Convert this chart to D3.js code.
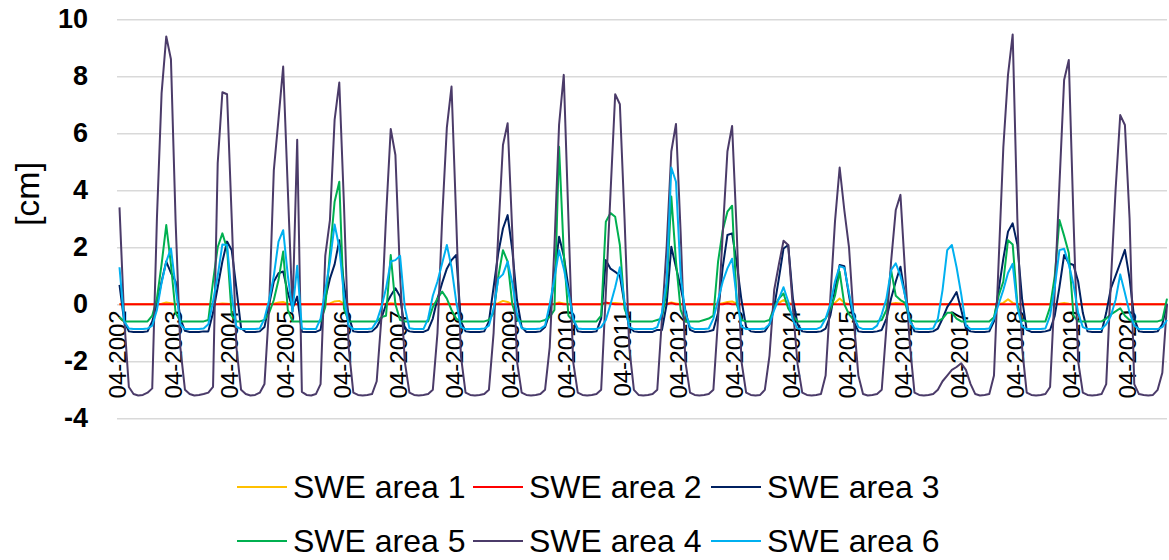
<!DOCTYPE html>
<html>
<head>
<meta charset="utf-8">
<script src="https://cdn.jsdelivr.net/npm/d3@7"></script>
<style>
  body { margin: 0; background: #fff; }
  svg { display: block; font-family: "Liberation Sans", Arial, sans-serif; }
</style>
</head>
<body>
<div id="chart"></div>
<script>
// monthly values, one line per hydrological year (Apr .. Mar), 04-2002 .. 12-2020
const startYear = 2002;
const startMonth = 4;

const area1 = [
  0, 0, 0, 0, 0, 0, 0, 0, 0, 0.02, 0.06, 0.04,
  0, 0, 0, 0, 0, 0, 0, 0, 0, 0.01, 0.03, 0.02,
  0, 0, 0, 0, 0, 0, 0, 0, 0, 0.02, 0.06, 0.08,
  0.02, 0, 0, 0, 0, 0, 0, 0, 0, 0.03, 0.1, 0.12,
  0.02, 0, 0, 0, 0, 0, 0, 0, 0, 0.01, 0.04, 0.02,
  0, 0, 0, 0, 0, 0, 0, 0, 0, 0.01, 0.02, 0.01,
  0, 0, 0, 0, 0, 0, 0, 0, 0, 0.04, 0.12, 0.08,
  0, 0, 0, 0, 0, 0, 0, 0, 0, 0.02, 0.06, 0.03,
  0, 0, 0, 0, 0, 0, 0, 0, 0.03, 0.05, 0.05, 0.03,
  0, 0, 0, 0, 0, 0, 0, 0, 0, 0.02, 0.06, 0.03,
  0, 0, 0, 0, 0, 0, 0, 0, 0, 0.04, 0.08, 0.1,
  0.02, 0, 0, 0, 0, 0, 0, 0, 0, 0.05, 0.15, 0.05,
  0, 0, 0, 0, 0, 0, 0, 0, 0, 0.05, 0.2, 0.05,
  0, 0, 0, 0, 0, 0, 0, 0, 0, 0.02, 0.05, 0.03,
  0, 0, 0, 0, 0, 0, 0, 0, 0, 0, 0, 0,
  0, 0, 0, 0, 0, 0, 0, 0, 0, 0.05, 0.18, 0.05,
  0, 0, 0, 0, 0, 0, 0, 0, 0, 0.02, 0.05, 0.02,
  0, 0, 0, 0, 0, 0, 0, 0, 0, 0, 0.02, 0,
  0, 0, 0, 0, 0, 0, 0, 0, 0
];

const area2 = [
  0, 0, 0, 0, 0, 0, 0, 0, 0, 0, 0, 0,
  0, 0, 0, 0, 0, 0, 0, 0, 0, 0, 0, 0,
  0, 0, 0, 0, 0, 0, 0, 0, 0, 0, 0, 0,
  0, 0, 0, 0, 0, 0, 0, 0, 0, 0, 0, 0,
  0, 0, 0, 0, 0, 0, 0, 0, 0, 0, 0, 0,
  0, 0, 0, 0, 0, 0, 0, 0, 0, 0, 0, 0,
  0, 0, 0, 0, 0, 0, 0, 0, 0, 0, 0, 0,
  0, 0, 0, 0, 0, 0, 0, 0, 0, 0, 0.02, 0,
  0, 0, 0, 0, 0, 0, 0, 0, 0.06, 0.02, 0, 0,
  0, 0, 0, 0, 0, 0, 0, 0, 0, 0, 0.04, 0,
  0, 0, 0, 0, 0, 0, 0, 0, 0, 0, 0.03, 0,
  0, 0, 0, 0, 0, 0, 0, 0, 0, 0, 0, 0,
  0, 0, 0, 0, 0, 0, 0, 0, 0, 0, 0, 0,
  0, 0, 0, 0, 0, 0, 0, 0, 0, 0, 0, 0,
  0, 0, 0, 0, 0, 0, 0, 0, 0, 0, 0, 0,
  0, 0, 0, 0, 0, 0, 0, 0, 0, 0, 0, 0,
  0, 0, 0, 0, 0, 0, 0, 0, 0, 0, 0, 0,
  0, 0, 0, 0, 0, 0, 0, 0, 0, 0, 0, 0,
  0, 0, 0, 0, 0, 0, 0, 0, 0
];

const area3 = [
  0.68, -0.6, -0.95, -0.97, -0.97, -0.97, -0.95, -0.6, 0.0, 0.8, 1.5, 1.1,
  0.8, -0.5, -0.93, -0.97, -0.97, -0.97, -0.95, -0.95, -0.3, 0.6, 1.5, 2.2,
  1.9, 0.56, -0.84, -0.97, -0.97, -0.97, -0.95, -0.8, 0.0, 0.8, 1.09, 1.15,
  0.4, -0.14, 0.27, -0.96, -0.97, -0.97, -0.97, -0.9, 0.2, 0.9, 1.4, 2.25,
  0.7, -0.4, -0.95, -0.97, -0.97, -0.97, -0.95, -0.8, -0.5, 0.0, 0.3, 0.56,
  0.27, -0.85, -0.95, -0.97, -0.97, -0.97, -0.9, -0.5, 0.2, 0.75, 1.25, 1.55,
  1.73, -0.6, -0.95, -0.97, -0.97, -0.97, -0.95, -0.6, 0.6, 1.8, 2.66, 3.13,
  1.9, 0.15, -0.8, -0.97, -0.97, -0.97, -0.95, -0.8, -0.3, 1.0, 2.37, 1.7,
  0.6, -0.5, -0.95, -0.97, -0.97, -0.97, -0.95, -0.5, 1.55, 1.25, 1.14, 1.0,
  0.0, -0.8, -0.95, -0.97, -0.97, -0.97, -0.97, -0.9, -0.9, 0.0, 2.02, 1.3,
  0.6, -0.2, -0.9, -0.97, -0.97, -0.97, -0.95, -0.9, -0.3, 1.3, 2.43, 2.49,
  1.44, 0.15, -0.8, -0.95, -0.97, -0.97, -0.95, -0.7, -0.1, 0.9, 1.96, 2.08,
  0.2, -0.7, -0.95, -0.97, -0.97, -0.97, -0.95, -0.85, -0.4, 0.5, 1.38, 1.34,
  0.3, -0.6, -0.95, -0.97, -0.97, -0.97, -0.95, -0.9, -0.5, 0.2, 0.8, 1.32,
  0.3, -0.5, -0.95, -0.97, -0.97, -0.97, -0.95, -0.85, -0.5, -0.1, 0.15, 0.43,
  -0.2, -0.85, -0.95, -0.97, -0.97, -0.97, -0.95, -0.6, 0.5, 1.6, 2.55, 2.84,
  2.1, 0.2, -0.9, -0.97, -0.97, -0.97, -0.95, -0.9, -0.4, 0.6, 1.73, 1.44,
  1.38, 0.8, -0.3, -0.95, -0.97, -0.97, -0.97, -0.3, 0.56, 1.0, 1.45, 1.91,
  0.9, -0.5, -0.95, -0.97, -0.97, -0.97, -0.95, -0.7, 0.03
];

const area5 = [
  -0.45, -0.6, -0.6, -0.6, -0.6, -0.6, -0.6, -0.4, 0.2, 1.4, 2.78, 1.4,
  -0.3, -0.6, -0.6, -0.6, -0.6, -0.6, -0.6, -0.55, 0.8, 2.0, 2.49, 1.96,
  -0.4, -0.6, -0.6, -0.6, -0.6, -0.6, -0.6, -0.55, -0.3, 0.15, 0.85, 1.85,
  -0.2, -0.6, -0.6, -0.6, -0.6, -0.6, -0.6, -0.6, -0.1, 1.8, 3.6, 4.3,
  -0.15, -0.6, -0.6, -0.6, -0.6, -0.6, -0.6, -0.6, -0.45, -0.4, 1.73, 0.0,
  -0.55, -0.6, -0.6, -0.6, -0.6, -0.6, -0.6, -0.1, 0.2, 0.45, 0.2, -0.2,
  -0.5, -0.6, -0.6, -0.6, -0.6, -0.6, -0.6, -0.55, -0.3, 0.97, 1.9, 1.5,
  0.0, -0.55, -0.6, -0.6, -0.6, -0.6, -0.6, -0.55, -0.45, -0.2, 5.53, 1.8,
  -0.4, -0.6, -0.6, -0.6, -0.6, -0.6, -0.6, -0.4, 2.9, 3.2, 3.07, 2.08,
  -0.15, -0.6, -0.6, -0.6, -0.6, -0.6, -0.6, -0.55, -0.5, 0.5, 3.78, 1.5,
  -0.2, -0.6, -0.6, -0.6, -0.6, -0.55, -0.5, -0.4, 1.5, 2.6, 3.25, 3.46,
  0.0, -0.55, -0.6, -0.6, -0.6, -0.6, -0.6, -0.55, -0.1, 0.2, 0.38, -0.15,
  -0.4, -0.6, -0.6, -0.6, -0.6, -0.6, -0.6, -0.5, -0.2, 0.3, 1.14, 0.0,
  -0.35, -0.55, -0.6, -0.6, -0.6, -0.6, -0.6, -0.55, -0.2, 1.2, 0.3, 0.15,
  0.05, -0.55, -0.6, -0.6, -0.6, -0.6, -0.6, -0.6, -0.5, -0.3, -0.3, -0.5,
  -0.6, -0.6, -0.6, -0.6, -0.6, -0.6, -0.6, -0.45, 0.3, 0.8, 2.25, 2.1,
  0.0, -0.55, -0.6, -0.6, -0.6, -0.6, -0.6, -0.1, 1.0, 2.96, 2.4, 1.8,
  -0.4, -0.6, -0.6, -0.6, -0.6, -0.6, -0.6, -0.5, -0.35, -0.25, -0.14, -0.4,
  -0.55, -0.6, -0.6, -0.6, -0.6, -0.6, -0.6, -0.55, 0.2
];

const area4 = [
  3.4, -0.5, -2.9, -3.15, -3.2, -3.18, -3.1, -2.95, 3.0, 7.4, 9.4, 8.6,
  2.9, -1.5, -3.0, -3.15, -3.2, -3.18, -3.15, -3.1, -2.9, 4.95, 7.44, 7.37,
  3.0, -1.5, -3.0, -3.15, -3.2, -3.18, -3.1, -2.8, -0.1, 4.7, 6.5, 8.34,
  4.0, -0.26, 5.77, -3.07, -3.18, -3.2, -3.15, -2.8, 1.7, 2.95, 6.47, 7.78,
  3.5, -1.5, -3.1, -3.18, -3.2, -3.18, -3.15, -2.7, -0.5, 3.07, 6.15, 5.24,
  1.0, -2.0, -3.1, -3.18, -3.2, -3.18, -3.15, -3.0, -1.0, 3.0, 6.2, 7.64,
  3.0, -1.8, -3.1, -3.18, -3.2, -3.18, -3.15, -3.0, -1.0, 2.5, 5.59, 6.35,
  2.5, -2.0, -3.1, -3.18, -3.2, -3.18, -3.15, -3.0, -1.5, 2.0, 6.3, 8.05,
  3.0, -2.0, -3.1, -3.18, -3.2, -3.18, -3.15, -3.0, 0.4, 3.9, 7.37, 7.02,
  3.0, -1.5, -3.0, -3.18, -3.2, -3.18, -3.15, -3.0, -0.5, 2.0, 5.36, 6.33,
  2.5, -2.0, -3.1, -3.18, -3.2, -3.18, -3.15, -3.0, -0.5, 2.5, 5.36, 6.26,
  2.5, -2.0, -3.1, -3.18, -3.2, -3.18, -3.0, -1.8, 0.5, 1.4, 2.23, 2.08,
  -0.14, -2.1, -3.1, -3.18, -3.2, -3.18, -3.15, -2.5, 0.2, 2.9, 4.8, 3.3,
  2.0, -0.5, -2.5, -3.15, -3.2, -3.18, -3.15, -3.0, -0.8, 1.5, 3.31, 3.84,
  1.1, -1.4, -3.1, -3.18, -3.2, -3.18, -3.15, -3.0, -2.7, -2.5, -2.3, -2.2,
  -2.07, -2.3, -2.8, -3.15, -3.2, -3.18, -3.15, -2.5, 1.5, 5.5, 8.05, 9.47,
  3.0, -1.5, -3.1, -3.18, -3.2, -3.18, -3.15, -2.9, 0.5, 4.2, 7.87, 8.57,
  3.0, -2.0, -3.1, -3.18, -3.2, -3.18, -3.15, -2.8, 0.8, 4.0, 6.64, 6.29,
  3.0, -2.8, -3.15, -3.18, -3.2, -3.18, -3.0, -2.4, 0.0
];

const area6 = [
  1.3, -0.6, -0.85, -0.87, -0.87, -0.87, -0.85, -0.75, -0.2, 0.75, 1.5, 1.96,
  0.6, -0.7, -0.87, -0.87, -0.87, -0.87, -0.85, -0.7, 0.1, 1.0, 2.1, 2.08,
  0.3, -0.78, -0.87, -0.87, -0.87, -0.87, -0.85, -0.5, 0.15, 1.0, 2.2, 2.6,
  1.0, -0.25, 1.35, -0.85, -0.87, -0.87, -0.87, -0.5, 0.5, 1.5, 2.8, 2.0,
  0.3, -0.75, -0.87, -0.87, -0.87, -0.87, -0.85, -0.6, -0.1, 0.56, 1.5, 1.55,
  1.7, -0.1, -0.84, -0.87, -0.87, -0.87, -0.5, 0.3, 0.8, 1.44, 2.08, 1.3,
  0.1, -0.8, -0.87, -0.87, -0.87, -0.87, -0.85, -0.75, -0.15, 0.9, 1.05, 1.5,
  0.75, -0.35, -0.84, -0.87, -0.87, -0.87, -0.85, -0.75, 0.0, 0.9, 1.9, 1.26,
  0.44, -0.5, -0.85, -0.87, -0.87, -0.87, -0.87, -0.8, -0.55, 0.0, 0.6, 1.3,
  0.1, -0.8, -0.87, -0.87, -0.87, -0.87, -0.87, -0.8, -0.3, 0.8, 4.8, 4.3,
  1.0, -0.3, -0.8, -0.87, -0.87, -0.87, -0.85, -0.5, 0.15, 0.8, 1.26, 1.6,
  0.2, -0.78, -0.87, -0.87, -0.87, -0.87, -0.85, -0.7, -0.2, 0.2, 0.6, 0.1,
  -0.55, -0.85, -0.87, -0.87, -0.87, -0.87, -0.8, -0.5, 0.0, 0.8, 1.34, 1.28,
  0.4, -0.4, -0.8, -0.87, -0.87, -0.87, -0.75, -0.35, 0.2, 1.2, 1.44, 1.0,
  0.3, -0.6, -0.85, -0.87, -0.87, -0.87, -0.85, -0.5, 0.5, 1.9, 2.08, 1.3,
  0.35, -0.75, -0.87, -0.87, -0.87, -0.87, -0.85, -0.5, 0.0, 0.5, 1.1, 1.42,
  -0.1, -0.78, -0.87, -0.87, -0.87, -0.87, -0.85, -0.4, 0.6, 1.9, 1.95, 1.4,
  0.7, -0.3, -0.8, -0.87, -0.87, -0.87, -0.87, -0.7, -0.4, 0.15, 1.05, 0.4,
  -0.3, -0.75, -0.87, -0.87, -0.87, -0.87, -0.87, -0.8, -0.55
];

const seriesNames = ["SWE area 1", "SWE area 2", "SWE area 3", "SWE area 5", "SWE area 4", "SWE area 6"];
const seriesColors = ["#FFC000", "#FF0000", "#002060", "#00B050", "#4B3B69", "#00B0F0"];
const seriesValues = [area1, area2, area3, area5, area4, area6];

const yTicks = [-4, -2, 0, 2, 4, 6, 8, 10];
const tickLabels = ["04-2002", "04-2003", "04-2004", "04-2005", "04-2006", "04-2007", "04-2008",
  "04-2009", "04-2010", "04-2011", "04-2012", "04-2013", "04-2014", "04-2015", "04-2016",
  "04-2017", "04-2018", "04-2019", "04-2020"];

// month categories "MM-YYYY"
const categories = area4.map((_, i) => {
  const m = (startMonth - 1 + i) % 12 + 1;
  const yr = startYear + Math.floor((startMonth - 1 + i) / 12);
  return String(m).padStart(2, "0") + "-" + yr;
});

const width = 1169, height = 560;
const plotLeft = 117, plotRight = 1167;

const svg = d3.select("#chart").append("svg")
  .attr("width", width)
  .attr("height", height);

const x = d3.scalePoint()
  .domain(categories)
  .range([119.5, 1167]);

const y = d3.scaleLinear()
  .domain([-4, 10])
  .range([418.3, 19.3]);

// gridlines
svg.append("g")
  .attr("transform", "translate(" + plotLeft + ",0)")
  .call(d3.axisLeft(y).tickValues(yTicks).tickSize(-(plotRight - plotLeft)).tickFormat(""))
  .call(g => g.select(".domain").remove())
  .call(g => g.selectAll("line").attr("stroke", "#d9d9d9").attr("stroke-width", 1.5));

// y tick labels (plain hyphen for negatives, like the original)
svg.append("g")
  .attr("transform", "translate(88,0)")
  .call(d3.axisLeft(y).tickValues(yTicks).tickSize(0).tickPadding(0).tickFormat(d => String(d)))
  .call(g => g.select(".domain").remove())
  .call(g => g.selectAll("text")
    .attr("fill", "#000")
    .attr("font-size", 27)
    .attr("font-weight", "bold")
    .attr("font-family", "'Liberation Sans', Arial, sans-serif"));

// y axis title
svg.append("text")
  .attr("transform", "translate(27,194) rotate(-90)")
  .attr("text-anchor", "middle")
  .attr("dy", "0.35em")
  .attr("font-size", 34)
  .text("[cm]");

// x labels, vertical, just under the zero line
svg.append("g").selectAll("text")
  .data(tickLabels)
  .join("text")
  .attr("transform", d => "translate(" + (x(d) - 2) + "," + (y(0) + 6) + ") rotate(-90)")
  .attr("text-anchor", "end")
  .attr("dy", "0.36em")
  .attr("font-size", 24)
  .text(d => d);

// lines
const line = d3.line()
  .x((d, i) => x(categories[i]))
  .y(d => y(d));

svg.append("g").selectAll("path")
  .data(seriesValues)
  .join("path")
  .attr("fill", "none")
  .attr("stroke", (d, i) => seriesColors[i])
  .attr("stroke-width", 2)
  .attr("stroke-linejoin", "round")
  .attr("d", line);

// legend, 3 per row
const legendX = [237, 473, 711];
const legendY = [487, 541];
const legend = svg.append("g").selectAll("g")
  .data(seriesNames)
  .join("g")
  .attr("transform", (d, i) => "translate(" + legendX[i % 3] + "," + legendY[Math.floor(i / 3)] + ")");

legend.append("line")
  .attr("x1", 0).attr("x2", 50)
  .attr("stroke", (d, i) => seriesColors[i])
  .attr("stroke-width", 2);

legend.append("text")
  .attr("x", 56)
  .attr("dy", "0.35em")
  .attr("font-size", 32)
  .text(d => d);
</script>
</body>
</html>
